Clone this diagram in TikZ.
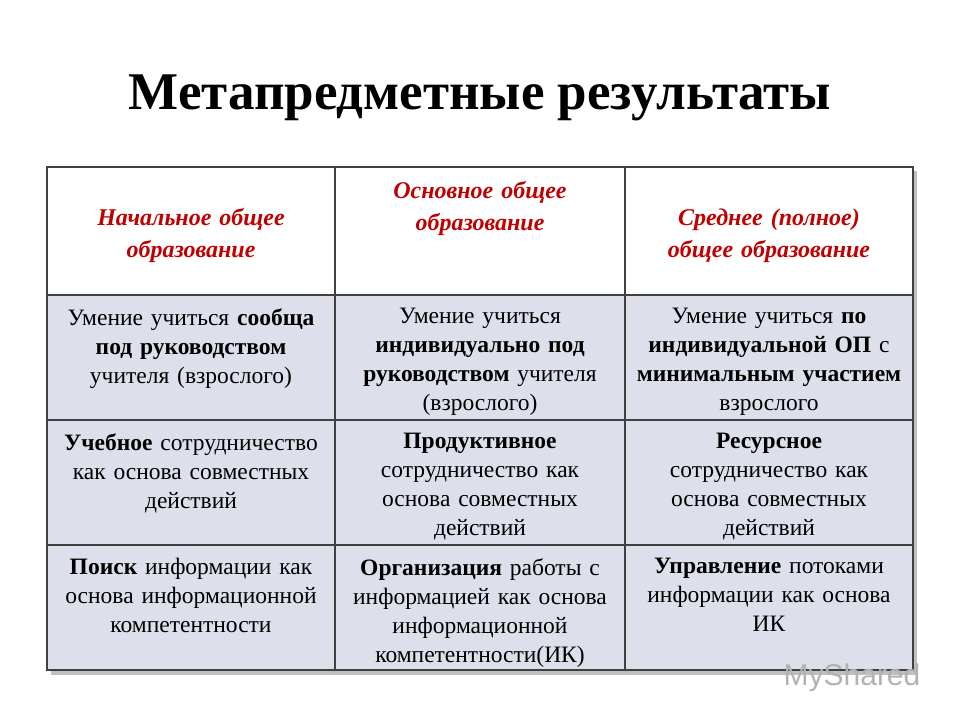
\documentclass[tikz,border=0pt]{standalone}
\usepackage{fontspec}
\setmainfont{Liberation Serif}
\newfontfamily\sansf{Liberation Sans}
\begin{document}
\begin{tikzpicture}[x=1pt,y=-1pt,
  cell/.style={anchor=north,align=center,font=\fontsize{23.5}{29}\selectfont,inner sep=0pt},
  head/.style={cell,text=hdred,font=\fontsize{24}{32}\selectfont\bfseries\itshape},
  grid/.style={draw=black!75,line width=1.2pt}]
\definecolor{hdred}{HTML}{C00000}
\definecolor{rowbg}{HTML}{DDE0EA}
\useasboundingbox (0,0) rectangle (960,720);
\fill[rowbg] (47,295) rectangle (913,670);
\fill[black!25] (51,671) rectangle (917,675);
\fill[black!25] (914,171) rectangle (917,675);
\draw[grid] (47,167) rectangle (913,670);
\foreach \y in {295,420,545} \draw[grid] (47,\y) -- (913,\y);
\foreach \x in {335,625} \draw[grid] (\x,167) -- (\x,670);
\node[font=\fontsize{53}{58}\selectfont\bfseries] (title) at (480,98) {Метапредметные результаты};
\node[head,text width=280pt] (h1) at (191,208) {Начальное общее\\образование};
\node[head,text width=280pt] (h2) at (480,181) {Основное общее\\образование};
\node[head,text width=280pt] (h3) at (769,209) {Среднее (полное)\\общее образование};
\node[cell,text width=285pt] (a1) at (191,308) {Умение учиться \textbf{сообща}\\\textbf{под руководством}\\учителя (взрослого)};
\node[cell,text width=285pt] (a2) at (480,308) {Умение учиться\\\textbf{индивидуально под}\\\textbf{руководством} учителя\\(взрослого)};
\node[cell,text width=285pt] (a3) at (769,308) {Умение учиться \textbf{по}\\\textbf{индивидуальной ОП} с\\\textbf{минимальным участием}\\взрослого};
\node[cell,text width=285pt] (b1) at (191,433) {\textbf{Учебное} сотрудничество\\как основа совместных\\действий};
\node[cell,text width=285pt] (b2) at (480,433) {\textbf{Продуктивное}\\сотрудничество как\\основа совместных\\действий};
\node[cell,text width=285pt] (b3) at (769,433) {\textbf{Ресурсное}\\сотрудничество как\\основа совместных\\действий};
\node[cell,text width=285pt] (c1) at (191,558) {\textbf{Поиск} информации как\\основа информационной\\компетентности};
\node[cell,text width=285pt] (c2) at (480,558) {\textbf{Организация} работы с\\информацией как основа\\информационной\\компетентности(ИК)};
\node[cell,text width=285pt] (c3) at (769,558) {\textbf{Управление} потоками\\информации как основа\\ИК};
\node[font=\sansf\fontsize{30}{32}\selectfont,text=black!30] (wm) at (852,678) {MyShared};
\end{tikzpicture}
\end{document}
